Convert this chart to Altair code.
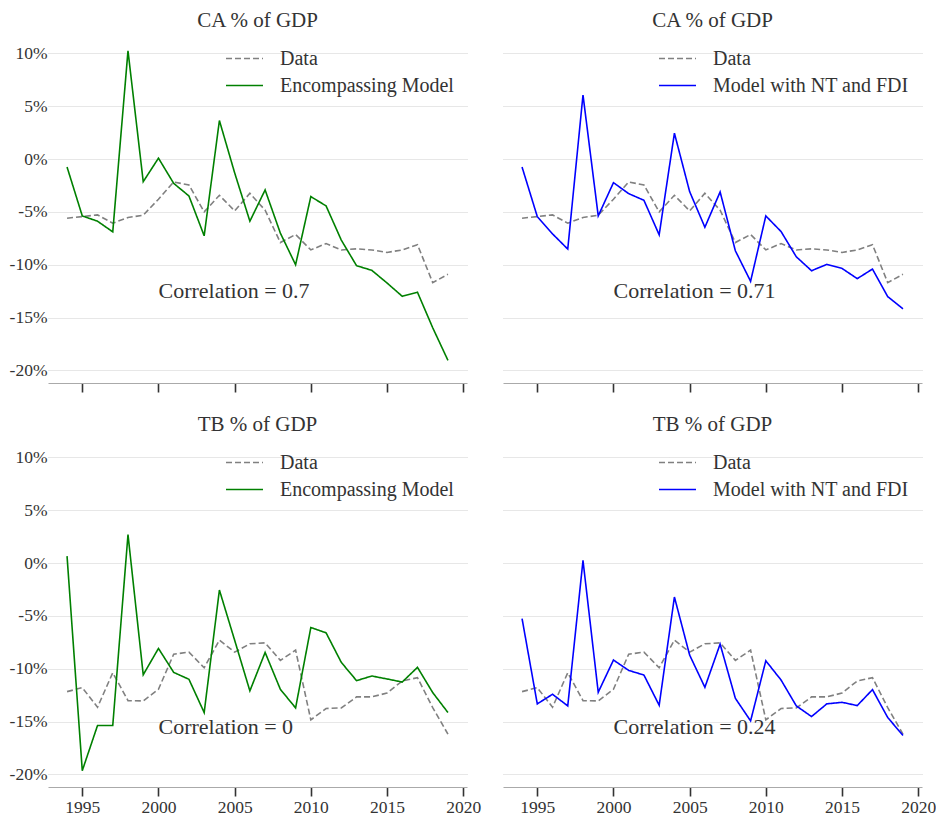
import altair as alt
import pandas as pd

years = list(range(1994, 2020))

ca_data = [-5.6, -5.44, -5.28, -6.07, -5.53, -5.31, -3.8, -2.17, -2.45, -5.0,
           -3.43, -4.9, -3.24, -4.84, -7.9, -7.14, -8.6, -8.0, -8.6, -8.5,
           -8.6, -8.84, -8.6, -8.1, -11.7, -10.9]
ca_encomp = [-0.75, -5.38, -5.88, -6.89, 10.25, -2.14, 0.09, -2.3, -3.49, -7.26,
             3.65, -1.3, -5.88, -2.92, -7.01, -10.0, -3.55, -4.43, -7.67, -10.09,
             -10.53, -11.73, -12.99, -12.61, -15.97, -19.06]
ca_ntfdi = [-0.75, -5.44, -7.08, -8.52, 6.07, -5.38, -2.23, -3.27, -3.9, -7.17,
            2.45, -3.08, -6.45, -3.11, -8.68, -11.57, -5.38, -6.86, -9.25, -10.57,
            -9.97, -10.35, -11.32, -10.41, -13.02, -14.18]

tb_data = [-12.17, -11.79, -13.65, -10.38, -13.02, -13.05, -11.95, -8.62, -8.43, -9.91,
           -7.3, -8.43, -7.64, -7.55, -9.21, -8.24, -14.84, -13.77, -13.71, -12.67,
           -12.67, -12.3, -11.16, -10.85, -13.68, -16.2]
tb_encomp = [0.66, -19.65, -15.38, -15.38, 2.7, -10.57, -8.08, -10.35, -11.0, -14.15,
             -2.55, -7.3, -12.1, -8.46, -11.95, -13.71, -6.1, -6.6, -9.4, -11.13,
             -10.69, -10.97, -11.26, -9.87, -12.26, -14.15]
tb_ntfdi = [-5.25, -13.33, -12.42, -13.52, 0.25, -12.23, -9.18, -10.16, -10.6, -13.46,
            -3.21, -8.71, -11.76, -7.67, -12.8, -14.94, -9.25, -11.07, -13.52, -14.53,
            -13.33, -13.18, -13.49, -11.98, -14.62, -16.32]

titles = ["CA % of GDP", "TB % of GDP"]
model_names = ["Encompassing Model", "Model with NT and FDI"]
model_colors = ["green", "blue"]
corr_texts = [["Correlation = 0.7", "Correlation = 0.71"],
              ["Correlation = 0", "Correlation = 0.24"]]
corr_x = 2000
corr_y = [-12.5, -15.5]
y_ticks = [-20, -15, -10, -5, 0, 5, 10]
x_ticks = [1995, 2000, 2005, 2010, 2015, 2020]

FONT = "Liberation Serif"
TXT = "#333333"
W, H = 419, 348


def panel(title, data_vals, model_vals, model_name, color, corr_text, cy,
          show_y, show_x):
    df = pd.DataFrame({
        "year": years * 2,
        "value": data_vals + model_vals,
        "series": ["Data"] * len(years) + [model_name] * len(years),
        "order": [0] * len(years) + [1] * len(years),
    })
    xscale = alt.Scale(domain=[1992.75, 2020.25], nice=False, zero=False)
    yscale = alt.Scale(domain=[-21.2, 11.75], nice=False, zero=False)
    xaxis = alt.Axis(values=x_ticks, labels=show_x, format="d", title=None,
                     grid=False, domainColor="#aaaaaa", domainWidth=1.2,
                     tickColor="#333333", tickWidth=1.6, tickSize=9,
                     labelPadding=2, labelFontSize=17.5, labelFont=FONT,
                     labelColor=TXT)
    yaxis = alt.Axis(values=y_ticks, labels=show_y, labelExpr="datum.value + '%'",
                     title=None, ticks=False, domain=False, grid=True,
                     gridColor="#c8c8c8", gridDash=[1, 1], gridWidth=0.9,
                     labelPadding=1, labelFontSize=17.5, labelFont=FONT,
                     labelColor=TXT)
    lines = alt.Chart(df).mark_line(strokeWidth=1.6).encode(
        x=alt.X("year:Q", scale=xscale, axis=xaxis),
        y=alt.Y("value:Q", scale=yscale, axis=yaxis),
        color=alt.Color("series:N",
                        scale=alt.Scale(domain=["Data", model_name],
                                        range=["grey", color]),
                        legend=alt.Legend(title=None, orient="top-right",
                                          offset=13, symbolType="M-2,0H2",
                                          symbolSize=342, symbolStrokeWidth=1.6,
                                          labelFont=FONT, labelFontSize=20,
                                          labelColor=TXT, labelOffset=25,
                                          labelLimit=0, rowPadding=6)),
        strokeDash=alt.StrokeDash("series:N",
                                  scale=alt.Scale(domain=["Data", model_name],
                                                  range=[[6, 3], [1, 0]]),
                                  legend=None),
        order="order:Q",
    )
    tdf = pd.DataFrame({"x": [corr_x], "y": [cy], "t": [corr_text]})
    text = alt.Chart(tdf).mark_text(align="left", baseline="middle", font=FONT,
                                    fontSize=22, color=TXT).encode(
        x=alt.X("x:Q", scale=xscale, axis=xaxis),
        y=alt.Y("y:Q", scale=yscale, axis=yaxis), text="t:N")
    return alt.layer(lines, text).properties(
        width=W, height=H,
        view=alt.ViewBackground(stroke="transparent", strokeWidth=0),
        title=alt.TitleParams(title, font=FONT, fontSize=21, fontWeight="normal",
                              color=TXT, offset=4),
    )


cells = []
for r, (dv, mlist) in enumerate([(ca_data, [ca_encomp, ca_ntfdi]),
                                 (tb_data, [tb_encomp, tb_ntfdi])]):
    for c in range(2):
        cells.append(panel(titles[r], dv, mlist[c], model_names[c], model_colors[c],
                           corr_texts[r][c], corr_y[r], show_y=(c == 0),
                           show_x=(r == 1)))

chart = alt.concat(*cells, columns=2, spacing={"row": 21, "column": 22}).resolve_scale(
    color="independent", strokeDash="independent").properties(
    padding={"left": 1, "top": 2, "right": 0, "bottom": 0},
    background="white",
).configure_view(stroke="transparent", strokeWidth=0)

chart.save("out.html", embed_options={"renderer": "svg", "actions": False})
